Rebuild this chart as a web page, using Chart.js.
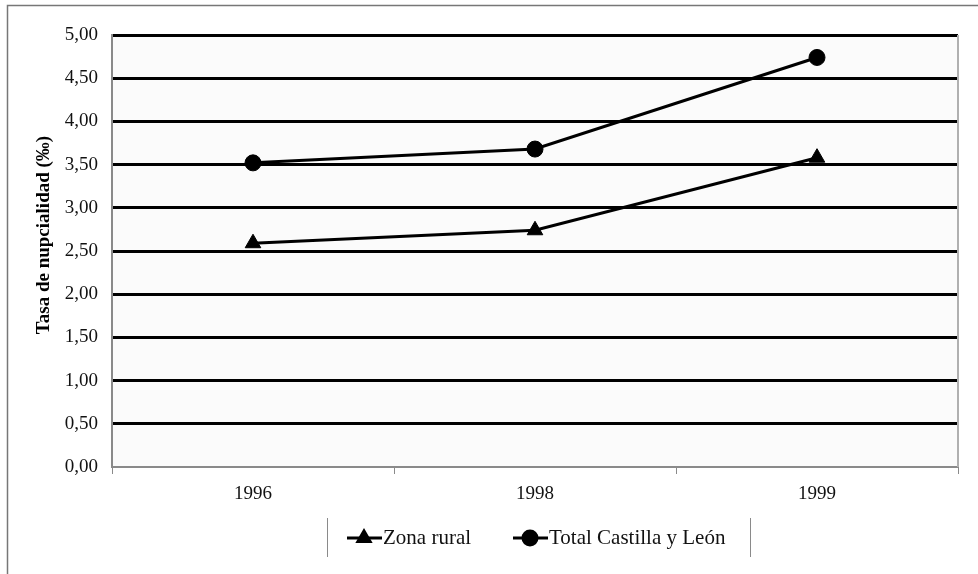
<!DOCTYPE html>
<html>
<head>
<meta charset="utf-8">
<title>Tasa de nupcialidad</title>
<script src="https://cdn.jsdelivr.net/npm/chart.js@4.4.0/dist/chart.umd.min.js"></script>
<style>
  html, body { margin: 0; padding: 0; background: #fff; }
  #wrap { width: 978px; height: 574px; position: relative; }
</style>
</head>
<body>
<div id="wrap"><canvas id="chart" width="978" height="574"></canvas></div>
<script>
// data
const years = ["1996", "1998", "1999"];
const zonaRural = [2.59, 2.74, 3.58];
const totalCyL = [3.52, 3.68, 4.74];
const seriesNames = ["Zona rural", "Total Castilla y León"];
const yTicks = [0, 0.5, 1, 1.5, 2, 2.5, 3, 3.5, 4, 4.5, 5];
const yTitle = "Tasa de nupcialidad (‰)";

const SERIF = "'Liberation Serif', 'DejaVu Serif', serif";
const GRAY = "#8a8a8a";

// frame, plot background, right edge of the plot and the y title
const backdrop = {
  id: "backdrop",
  beforeDraw(chart) {
    const { ctx, chartArea: a } = chart;
    ctx.save();
    ctx.fillStyle = "#fbfbfb";
    ctx.fillRect(a.left, a.top, a.right - a.left, a.bottom - a.top);
    ctx.strokeStyle = "#777";
    ctx.lineWidth = 1.5;
    ctx.strokeRect(7.5, 5.5, 1200, 1200);
    ctx.restore();
  },
  afterDatasetsDraw(chart) {
    const { ctx, chartArea: a } = chart;
    ctx.save();
    ctx.strokeStyle = "#b0b0b0";
    ctx.lineWidth = 2;
    ctx.beginPath();
    ctx.moveTo(a.right, a.top);
    ctx.lineTo(a.right, a.bottom);
    ctx.stroke();

    // axis title sits a bit above the plot's middle in the original
    ctx.translate(44, 235);
    ctx.rotate(-Math.PI / 2);
    ctx.font = "bold 19px " + SERIF;
    ctx.fillStyle = "#000";
    ctx.textAlign = "center";
    ctx.textBaseline = "middle";
    ctx.fillText(yTitle, 0, 0);
    ctx.restore();
  }
};

// legend drawn as line + marker, like the original, inside a box with side bars
const lineLegend = {
  id: "lineLegend",
  afterDraw(chart) {
    const { ctx } = chart;
    const y = 538;
    const items = [{ x: 347, ds: 0 }, { x: 513, ds: 1 }];
    ctx.save();
    ctx.strokeStyle = GRAY;
    ctx.lineWidth = 1;
    ctx.beginPath();
    ctx.moveTo(327.5, 518); ctx.lineTo(327.5, 557);
    ctx.moveTo(750.5, 518); ctx.lineTo(750.5, 557);
    ctx.stroke();
    ctx.font = "21px " + SERIF;
    ctx.textBaseline = "middle";
    items.forEach(it => {
      const ds = chart.data.datasets[it.ds];
      ctx.strokeStyle = "#000";
      ctx.lineWidth = 3;
      ctx.beginPath();
      ctx.moveTo(it.x, y);
      ctx.lineTo(it.x + 35, y);
      ctx.stroke();
      Chart.helpers.drawPoint(ctx, {
        pointStyle: ds.pointStyle, radius: 7, rotation: 0, borderWidth: 1
      }, it.x + 17, y);
      ctx.fillStyle = "#000";
      ctx.fill();
      ctx.fillStyle = "#111";
      ctx.fillText(ds.label, it.x + 36, y);
    });
    ctx.restore();
  }
};

new Chart(document.getElementById("chart"), {
  type: "line",
  data: {
    labels: years,
    datasets: [
      {
        label: seriesNames[0],
        data: zonaRural,
        borderColor: "#000",
        backgroundColor: "#000",
        borderWidth: 3,
        pointStyle: "triangle",
        pointRadius: 9,
        pointBorderWidth: 1,
        tension: 0
      },
      {
        label: seriesNames[1],
        data: totalCyL,
        borderColor: "#000",
        backgroundColor: "#000",
        borderWidth: 3,
        pointStyle: "circle",
        pointRadius: 8,
        pointBorderWidth: 1,
        tension: 0
      }
    ]
  },
  options: {
    responsive: false,
    animation: false,
    layout: { padding: { top: 35, right: 20, bottom: 0, left: 0 } },
    plugins: {
      legend: { display: false },
      tooltip: { enabled: false }
    },
    scales: {
      x: {
        offset: true,
        afterFit: scale => { scale.height = 107; },
        grid: {
          offset: true,
          drawOnChartArea: false,
          drawTicks: true,
          tickLength: 7,
          tickColor: GRAY,
          tickWidth: 1
        },
        border: { color: GRAY, width: 2 },
        ticks: {
          color: "#111",
          padding: 9,
          font: { family: SERIF, size: 19 }
        }
      },
      y: {
        min: 0,
        max: 5,
        afterFit: scale => { scale.width = 112; },
        afterBuildTicks: scale => { scale.ticks = yTicks.map(v => ({ value: v })); },
        grid: {
          color: ctx => (ctx.tick && ctx.tick.value === 0) ? GRAY : "#000",
          lineWidth: ctx => (ctx.tick && ctx.tick.value === 0) ? 2 : 3,
          drawTicks: false
        },
        border: { color: GRAY, width: 2 },
        ticks: {
          color: "#111",
          padding: 14,
          font: { family: SERIF, size: 19 },
          callback: v => v.toFixed(2).replace(".", ",")
        }
      }
    }
  },
  plugins: [backdrop, lineLegend]
});
</script>
</body>
</html>
